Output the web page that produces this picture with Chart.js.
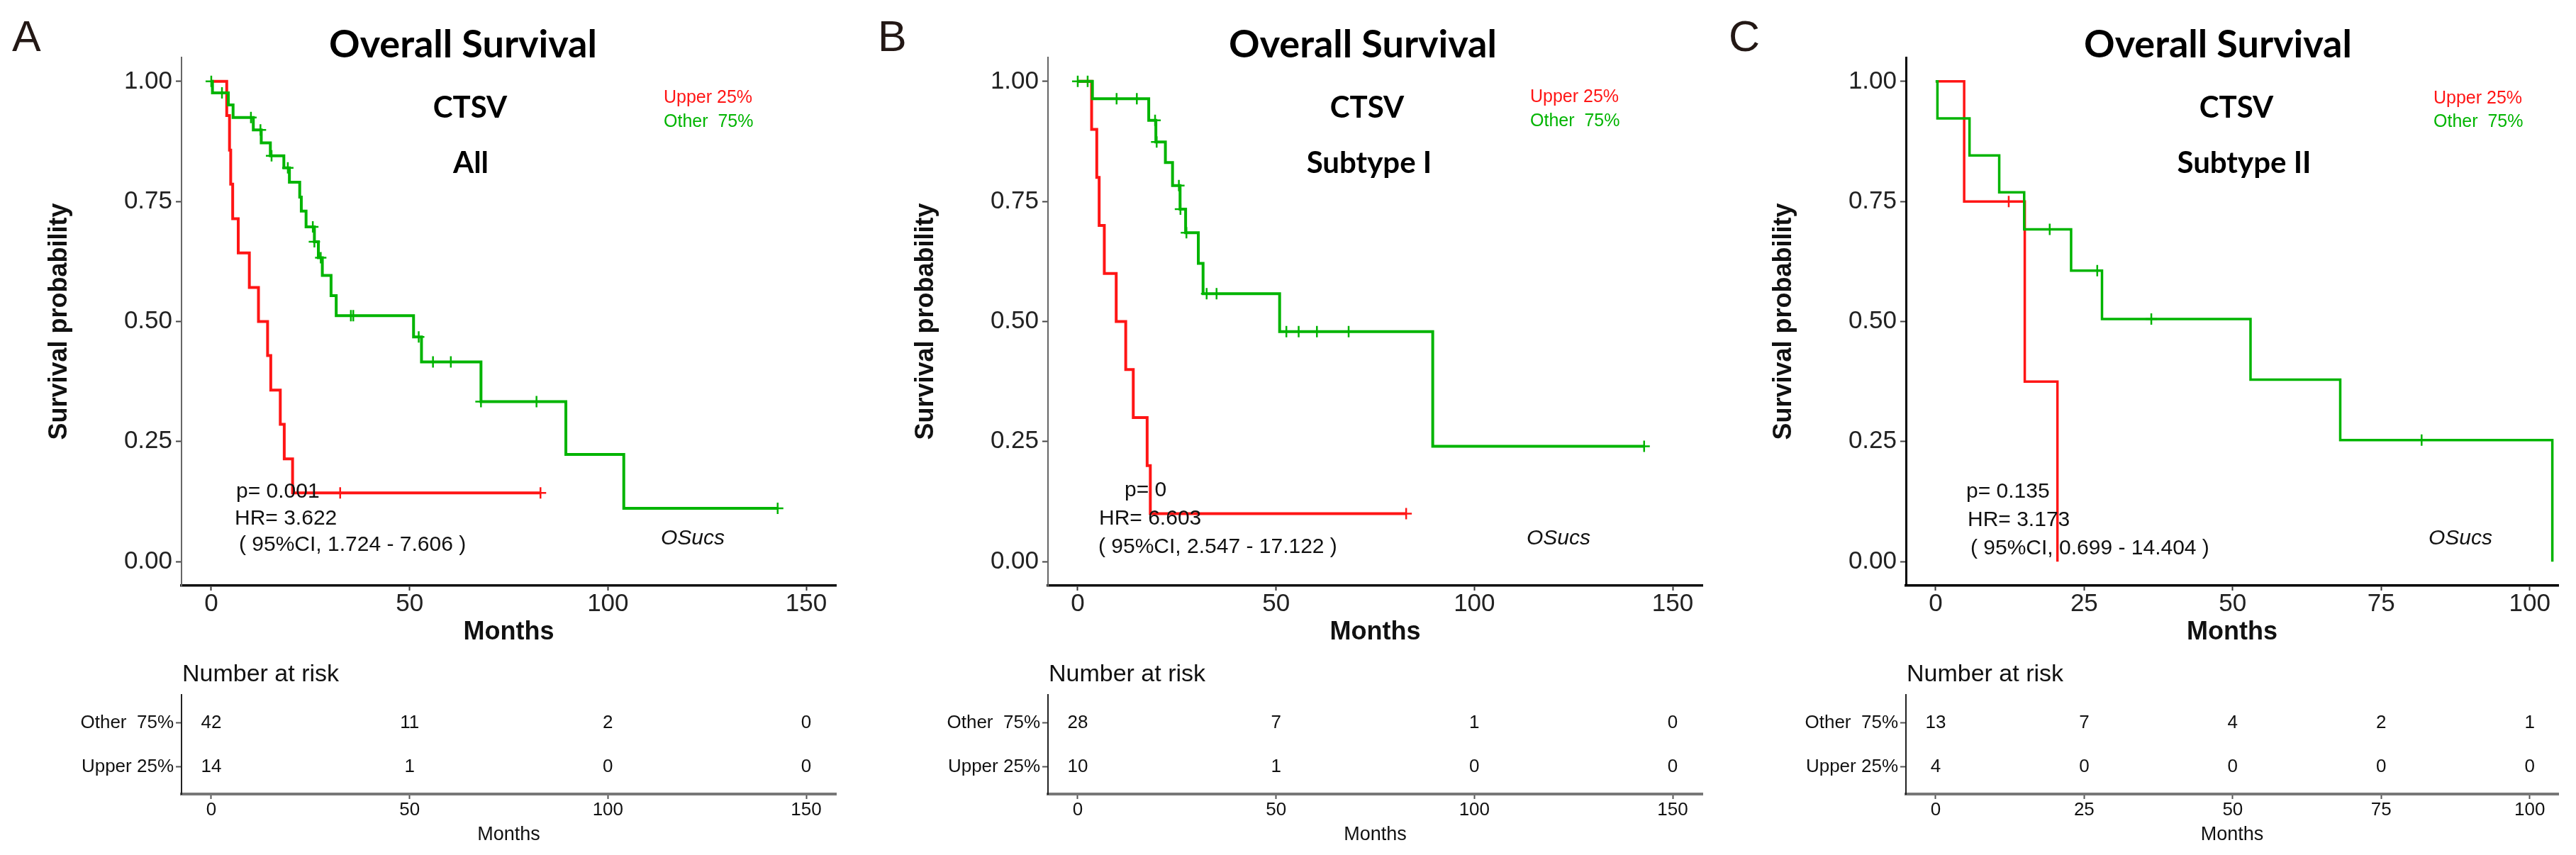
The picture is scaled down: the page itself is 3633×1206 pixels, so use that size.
<!DOCTYPE html>
<html><head><meta charset="utf-8">
<script src="https://cdn.jsdelivr.net/npm/chart.js@4.4.1/dist/chart.umd.min.js"></script>
<style>
html,body{margin:0;padding:0;background:#fff;}
#wrap{position:relative;width:3633px;height:1206px;overflow:hidden;background:#fff;}
canvas{position:absolute;}
</style></head><body><div id="wrap"></div>
<script>
// ---------------- DATA ----------------
const groupNames = ['Other  75%', 'Upper 25%'];
const xTicksA = [0, 50, 100, 150];
const xTicksB = [0, 50, 100, 150];
const xTicksC = [0, 25, 50, 75, 100];
const yTicks = [0, 0.25, 0.5, 0.75, 1];

// Panel A (All)
const kmA_other_t = [0, 0.3, 4.3, 5.5, 10.6, 12.6, 14.9, 18.3, 19.7, 22.3, 22.7, 23.9, 26.0, 27.0, 28.0, 30.2, 31.5, 51.0, 53.0, 68.0, 89.4, 104.0, 142.8];
const kmA_other_s = [1, 0.976, 0.951, 0.925, 0.899, 0.872, 0.845, 0.820, 0.790, 0.759, 0.730, 0.697, 0.666, 0.633, 0.596, 0.554, 0.512, 0.468, 0.416, 0.333, 0.223, 0.111, 0.111];
const censA_other = [0, 2.7, 10.0, 12.4, 15.2, 19.3, 25.6, 26.0, 27.6, 35.2, 35.8, 52.3, 55.9, 60.4, 68.0, 82.0, 142.8];
const kmA_upper_t = [0, 3.9, 4.6, 4.9, 5.4, 6.8, 9.6, 11.9, 14.2, 15.0, 17.4, 18.4, 20.5, 83.0];
const kmA_upper_s = [1, 0.929, 0.857, 0.786, 0.714, 0.643, 0.571, 0.5, 0.429, 0.357, 0.286, 0.214, 0.143, 0.143];
const censA_upper = [32.5, 83.0];
const riskA_other = [42, 11, 2, 0];
const riskA_upper = [14, 1, 0, 0];
const statsA = ['p= 0.001', 'HR= 3.622', '( 95%CI, 1.724 - 7.606 )'];

// Panel B (Subtype I)
const kmB_other_t = [0, 3.7, 17.9, 19.7, 22.1, 23.9, 25.8, 27.2, 30.4, 31.6, 50.9, 89.5, 142.8];
const kmB_other_s = [1, 0.964, 0.919, 0.874, 0.831, 0.783, 0.734, 0.685, 0.621, 0.558, 0.479, 0.240, 0.240];
const censB_other = [0, 2.5, 9.8, 14.9, 19.5, 19.9, 25.5, 25.9, 27.4, 32.5, 35.0, 52.6, 55.7, 60.3, 68.3, 142.8];
const kmB_upper_t = [0, 3.5, 4.8, 5.4, 6.7, 9.7, 12.1, 14.0, 17.5, 18.3, 82.8];
const kmB_upper_s = [1, 0.9, 0.8, 0.7, 0.6, 0.5, 0.4, 0.3, 0.2, 0.1, 0.1];
const censB_upper = [82.8];
const riskB_other = [28, 7, 1, 0];
const riskB_upper = [10, 1, 0, 0];
const statsB = ['p= 0', 'HR= 6.603', '( 95%CI, 2.547 - 17.122 )'];

// Panel C (Subtype II)
const kmC_other_t = [0, 0.3, 5.7, 10.7, 14.9, 22.8, 28.0, 53.0, 68.1, 103.8];
const kmC_other_s = [1, 0.923, 0.846, 0.769, 0.692, 0.606, 0.505, 0.379, 0.253, 0];
const censC_other = [19.2, 27.2, 36.3, 81.8];
const kmC_upper_t = [0, 4.8, 15.0, 20.5];
const kmC_upper_s = [1, 0.75, 0.375, 0];
const censC_upper = [12.3];
const riskC_other = [13, 7, 4, 2, 1];
const riskC_upper = [4, 0, 0, 0, 0];
const statsC = ['p= 0.135', 'HR= 3.173', '( 95%CI, 0.699 - 14.404 )'];

// ---------------- STYLE / LAYOUT ----------------
const GREEN = '#00B400', RED = '#FF1515';
const SANS = '"Liberation Sans", Arial, sans-serif';
const TITLE = 'Lato, "Open Sans", sans-serif';

function kmPoints(t, s) { return t.map((x, i) => ({x: x, y: s[i]})); }
function survAt(c, t, s) { let v = s[0]; for (let i = 0; i < t.length; i++) { if (t[i] <= c) v = s[i]; } return v; }
function censPoints(ct, t, s) { return ct.map(c => ({x: c, y: survAt(c, t, s)})); }

function textPlugin(items) {
  return {
    id: 'texts',
    afterDraw(chart) {
      const ctx = chart.ctx;
      items.forEach(it => {
        ctx.save();
        ctx.font = it.font;
        ctx.fillStyle = it.color || '#000';
        ctx.textAlign = it.align || 'left';
        ctx.textBaseline = it.baseline || 'middle';
        ctx.fillText(it.text, it.x, it.y);
        ctx.restore();
      });
    }
  };
}
const riskLabelPlugin = {
  id: 'riskLabels',
  afterDatasetsDraw(chart) {
    const ctx = chart.ctx;
    ctx.save();
    ctx.font = '26px ' + SANS;
    ctx.fillStyle = '#111';
    ctx.textAlign = 'center';
    ctx.textBaseline = 'middle';
    chart.data.datasets.forEach((ds, di) => {
      const meta = chart.getDatasetMeta(di);
      meta.data.forEach((el, i) => ctx.fillText(String(ds.data[i].n), el.x, el.y));
    });
    ctx.restore();
  }
};

const panels = [
  {letter: 'A', left: 0, width: 1210, right: 1179, xmin: -7.5, xmax: 157.5, ticks: xTicksA,
   other: [kmA_other_t, kmA_other_s, censA_other], upper: [kmA_upper_t, kmA_upper_s, censA_upper],
   risk: [riskA_other, riskA_upper], stats: statsA, sub: 'All',
   pos: {letterX: 17, titleX: 653, ctsvX: 663, subX: 664, legX: 936, legY: [138, 172],
         stat: [[333, 694], [331, 732], [337, 769]], osX: 977},
   yBorder: ['#666', 2], xBorder: ['#111', 3.5], lw: 4},
  {letter: 'B', left: 1222, width: 1210, right: 1179, xmin: -7.5, xmax: 157.5, ticks: xTicksB,
   other: [kmB_other_t, kmB_other_s, censB_other], upper: [kmB_upper_t, kmB_upper_s, censB_upper],
   risk: [riskB_other, riskB_upper], stats: statsB, sub: 'Subtype I',
   pos: {letterX: 16, titleX: 700, ctsvX: 706, subX: 709, legX: 936, legY: [137, 171],
         stat: [[364, 692], [328, 732], [327, 772]], osX: 976},
   yBorder: ['#666', 2], xBorder: ['#111', 3.5], lw: 4},
  {letter: 'C', left: 2432, width: 1201, right: 1176, xmin: -5.0, xmax: 104.8, ticks: xTicksC,
   other: [kmC_other_t, kmC_other_s, censC_other], upper: [kmC_upper_t, kmC_upper_s, censC_upper],
   risk: [riskC_other, riskC_upper], stats: statsC, sub: 'Subtype II',
   pos: {letterX: 6, titleX: 696, ctsvX: 722, subX: 733, legX: 1000, legY: [139, 172],
         stat: [[341, 694], [343, 734], [347, 774]], osX: 1038},
   yBorder: ['#000', 3], xBorder: ['#000', 3.5], lw: 3.5}
];

const wrap = document.getElementById('wrap');
function mkCanvas(left, top, w, h) {
  const c = document.createElement('canvas');
  c.width = w; c.height = h;
  c.style.left = left + 'px'; c.style.top = top + 'px';
  c.style.width = w + 'px'; c.style.height = h + 'px';
  wrap.appendChild(c);
  return c;
}

panels.forEach(p => {
  // ---------- KM plot ----------
  const H = 920;
  const cv = mkCanvas(p.left, 0, p.width, H);
  const items = [
    {text: p.letter, x: p.pos.letterX, y: 72, font: '61px ' + SANS, color: '#231815', baseline: 'alphabetic'},
    {text: 'Overall Survival', x: p.pos.titleX, y: 64, font: 'bold 54px ' + TITLE, align: 'center'},
    {text: 'CTSV', x: p.pos.ctsvX, y: 152, font: 'bold 42px ' + TITLE, align: 'center'},
    {text: p.sub, x: p.pos.subX, y: 230, font: 'bold 42px ' + TITLE, align: 'center'},
    {text: groupNames[1], x: p.pos.legX, y: p.pos.legY[0], font: '25px ' + SANS, color: RED},
    {text: groupNames[0], x: p.pos.legX, y: p.pos.legY[1], font: '25px ' + SANS, color: GREEN},
    {text: p.stats[0], x: p.pos.stat[0][0], y: p.pos.stat[0][1], font: '30px ' + SANS, color: '#111'},
    {text: p.stats[1], x: p.pos.stat[1][0], y: p.pos.stat[1][1], font: '30px ' + SANS, color: '#111'},
    {text: p.stats[2], x: p.pos.stat[2][0], y: p.pos.stat[2][1], font: '30px ' + SANS, color: '#111'},
    {text: 'OSucs', x: p.pos.osX, y: 760, font: 'italic 30px ' + SANS, color: '#111', align: 'center'}
  ];
  new Chart(cv, {
    type: 'line',
    data: {
      datasets: [
        {data: kmPoints(p.other[0], p.other[1]), stepped: 'before', borderColor: GREEN, borderWidth: p.lw, pointRadius: 0, fill: false},
        {data: kmPoints(p.upper[0], p.upper[1]), stepped: 'before', borderColor: RED, borderWidth: p.lw, pointRadius: 0, fill: false},
        {type: 'scatter', data: censPoints(p.other[2], p.other[0], p.other[1]), pointStyle: 'cross', pointRadius: 8, pointBorderWidth: 2.5, borderColor: GREEN, backgroundColor: GREEN, showLine: false},
        {type: 'scatter', data: censPoints(p.upper[2], p.upper[0], p.upper[1]), pointStyle: 'cross', pointRadius: 8, pointBorderWidth: 2.5, borderColor: RED, backgroundColor: RED, showLine: false}
      ]
    },
    options: {
      responsive: false, animation: false, devicePixelRatio: 1,
      layout: {padding: {left: 0, top: 81, right: p.width - p.right, bottom: 0}},
      plugins: {legend: {display: false}, tooltip: {enabled: false}, title: {display: false}},
      elements: {line: {tension: 0}},
      scales: {
        x: {type: 'linear', min: p.xmin, max: p.xmax,
            afterBuildTicks: s => { s.ticks = p.ticks.map(v => ({value: v})); },
            afterFit: s => { s.height = H - 826; },
            ticks: {padding: 2, font: {family: SANS, size: 35, lineHeight: 1}, color: '#222', callback: v => String(v), maxRotation: 0, autoSkip: false},
            grid: {display: true, drawOnChartArea: false, drawTicks: true, tickLength: 7, tickColor: '#333', tickWidth: 2},
            border: {display: true, color: p.xBorder[0], width: p.xBorder[1]},
            title: {display: true, text: 'Months', font: {family: SANS, size: 36, weight: 'bold', lineHeight: 1}, color: '#111', padding: {top: 0, bottom: 10}}},
        y: {type: 'linear', min: -0.05, max: 1.05,
            afterBuildTicks: s => { s.ticks = yTicks.map(v => ({value: v})); },
            afterFit: s => { s.width = 256; },
            ticks: {padding: 5, font: {family: SANS, size: 35, lineHeight: 1}, color: '#222', callback: v => Number(v).toFixed(2)},
            grid: {display: true, drawOnChartArea: false, drawTicks: true, tickLength: 8, tickColor: '#444', tickWidth: 2},
            border: {display: true, color: p.yBorder[0], width: p.yBorder[1]},
            title: {display: true, text: 'Survival probability', font: {family: SANS, size: 36, weight: 'bold', lineHeight: 1}, color: '#111', padding: {top: 66, bottom: 0}}}
      }
    },
    plugins: [textPlugin(items)]
  });

  // ---------- Risk table ----------
  const TT = 930, TH = 276;
  const tv = mkCanvas(p.left, TT, p.width, TH);
  const rowVal = i => groupNames.length - i;
  new Chart(tv, {
    type: 'scatter',
    data: {
      datasets: p.risk.map((vals, gi) => ({
        data: p.ticks.map((m, i) => ({x: m, y: rowVal(gi), n: vals[i]})),
        pointRadius: 0, showLine: false
      }))
    },
    options: {
      responsive: false, animation: false, devicePixelRatio: 1,
      layout: {padding: {left: 0, top: 50, right: p.width - p.right, bottom: 0}},
      plugins: {legend: {display: false}, tooltip: {enabled: false}},
      scales: {
        x: {type: 'linear', min: p.xmin, max: p.xmax,
            afterBuildTicks: s => { s.ticks = p.ticks.map(v => ({value: v})); },
            afterFit: s => { s.height = TH - 190; },
            ticks: {padding: 3, font: {family: SANS, size: 26, lineHeight: 1}, color: '#111', callback: v => String(v), maxRotation: 0, autoSkip: false},
            grid: {display: true, drawOnChartArea: false, drawTicks: true, tickLength: 7, tickColor: '#555', tickWidth: 2},
            border: {display: true, color: '#777', width: 4},
            title: {display: true, text: 'Months', font: {family: SANS, size: 27, lineHeight: 1}, color: '#111', padding: {top: 0, bottom: 15}}},
        y: {type: 'linear', min: 0.387, max: 2.645,
            afterBuildTicks: s => { s.ticks = groupNames.map((g, i) => ({value: rowVal(i)})); },
            afterFit: s => { s.width = 256; },
            ticks: {padding: 3, font: {family: SANS, size: 26, lineHeight: 1}, color: '#111', callback: v => groupNames[groupNames.length - v]},
            grid: {display: true, drawOnChartArea: false, drawTicks: true, tickLength: 8, tickColor: '#555', tickWidth: 2},
            border: {display: true, color: '#222', width: 2},
            title: {display: false}}
      }
    },
    plugins: [riskLabelPlugin, textPlugin([
      {text: 'Number at risk', x: 257, y: 22, font: '34px ' + SANS, color: '#111'}
    ])]
  });
});
</script>
</body></html>
